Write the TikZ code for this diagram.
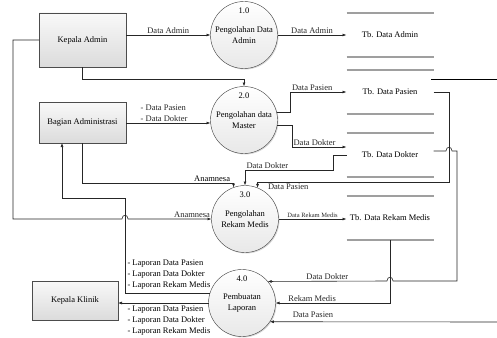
\documentclass[tikz,border=0pt]{standalone}
\usepackage{fontspec}
\setmainfont{Liberation Serif}
\usetikzlibrary{arrows.meta,shapes.geometric,positioning,shadows,fit,backgrounds}
\tikzset{
  base/.style={font=\fontsize{8.5}{11}\selectfont, align=center, inner sep=2pt, outer sep=0mm},
  block/.style={rectangle, draw=black!70, top color=gray!5, bottom color=gray!28, drop shadow={shadow xshift=1pt, shadow yshift=-1pt, opacity=.3}, minimum width=87pt, base},
  proc/.style={circle, draw=black!75, minimum size=67pt, inner sep=0pt, top color=white, bottom color=gray!18, drop shadow={shadow xshift=1pt, shadow yshift=-1pt, opacity=.3}, base},
  num/.style={base},
  store/.style={rectangle, minimum width=87pt, minimum height=44pt, base},
  storeline/.style={draw=gray!75, line width=1.3pt},
  arrow/.style={-{Latex[length=4pt,width=3pt]}, line width=.6pt, color=black!85},
  lbl/.style={base, inner sep=1.5pt},
  tinylbl/.style={lbl, font=\fontsize{6.5}{8}\selectfont}
}

\begin{document}
\begin{tikzpicture}[x=1pt, y=-1pt]
  \useasboundingbox (0,0) rectangle (497,337);

  % external entities
  \node[block, minimum height=54pt] (ka) at (82.5,40) {Kepala Admin};
  \node[block, minimum height=41pt] (ba) at (82.5,122.5) {Bagian Administrasi};
  \node[block, minimum width=86pt, minimum height=39pt] (kk) at (75,300.5) {Kepala Klinik};

  % processes
  \node[proc] (p1) at (244,35) {Pengolahan Data\\Admin};
  \node[proc] (p2) at (244,120) {Pengolahan data\\Master};
  \node[proc] (p3) at (245,219) {Pengolahan\\Rekam Medis};
  \node[proc] (p4) at (242,303) {Pembuatan\\Laporan};
  \foreach \p/\n in {p1/1.0, p2/2.0, p3/3.0, p4/4.0}
    \node[num] (\p num) at ([yshift=24pt]\p.center) {\n};

  % data stores
  \node[store] (sa) at (390,35) {Tb. Data Admin};
  \node[store] (sp) at (390,92) {Tb. Data Pasien};
  \node[store] (sd) at (390,155) {Tb. Data Dokter};
  \node[store] (sr) at (390,218) {Tb. Data Rekam Medis};
  \foreach \s in {sa,sp,sd,sr}
    \draw[storeline] (\s.north west) -- (\s.north east) (\s.south west) -- (\s.south east);
  \draw[line width=.6pt] (431,79) -- (497,79);

  % flows
  \draw[arrow] (ka.east |- p1.west) -- node[lbl, above] {Data Admin} (p1.west);
  \draw[arrow] (p1.east) -- node[lbl, above] {Data Admin} (sa.west);
  \draw[arrow] (ka.south) -- ++(0,12) -| (p2.north);
  \draw[arrow] (ka.west) -- ++(-26,0) |- (122,219) .. controls +(0,-5) and +(0,-5) .. (128,219)
    -- node[lbl, pos=1, above left] {Anamnesa} (p3.west);
  \draw[arrow] (ba.east |- 0,123) -- node[lbl, above, align=left, pos=.45] {- Data Pasien\\- Data Dokter} (p2.west |- 0,123);
  \draw[arrow] (ba.south) |- ([yshift=4pt]p3.110) -- (p3.110);
  \node[lbl, above left] (anam) at ([xshift=-2pt,yshift=4pt]p3.110) {Anamnesa};

  \draw[arrow] (p2.14) -- ++(14,0) |- node[lbl, pos=.5, above right] {Data Pasien} (sp.west);
  \draw[arrow] (p2.-9) -- ++(15,0) |- node[lbl, pos=.5, above right] {Data Dokter} ([yshift=8pt]sd.west);
  \draw[arrow] (sd.west) -- ++(-13,0) |- ([yshift=15pt]p3.north) node[lbl, above right] {Data Dokter} -- (p3.north);
  \draw[arrow] (sp.east) -- ++(15.5,0) |- ([yshift=6pt]p3.68) node[lbl, below right, xshift=9pt] {Data Pasien} -- (p3.68);
  \draw[arrow] (p3.east) -- node[tinylbl, above] {Data Rekam Medis} (p3.east -| sr.west);

  \draw[arrow] ([yshift=4pt]sd.east) -- ++(12.5,0) .. controls +(0,-5) and +(0,-5) .. ++(6,0) -- ++(5,0)
    |- (393,281) .. controls +(0,-5) and +(0,-5) .. (387,281)
    -- node[lbl, above, pos=.5] {Data Dokter} (p4.40);
  \draw[arrow] (sr.south) |- node[lbl, above, pos=.84] {Rekam Medis} (p4.east);
  \coordinate (dpin) at (497,322);
  \draw[arrow] (dpin) -- node[lbl, above, pos=.81, yshift=3pt] {Data Pasien} (p4.-34);

  \draw[arrow] (p4.163) -| (125,198) -| ([xshift=-20.5pt]ba.south);
  \node[lbl, anchor=south west, align=left] (lapba) at (126,291) {- Laporan Data Pasien\\- Laporan Data Dokter\\- Laporan Rekam Medis};
  \draw[arrow] (p4.west) -- (p4.west -| kk.east);
  \node[lbl, anchor=north west, align=left] (lapkk) at (126,304) {- Laporan Data Pasien\\- Laporan Data Dokter\\- Laporan Rekam Medis};
\end{tikzpicture}
\end{document}
